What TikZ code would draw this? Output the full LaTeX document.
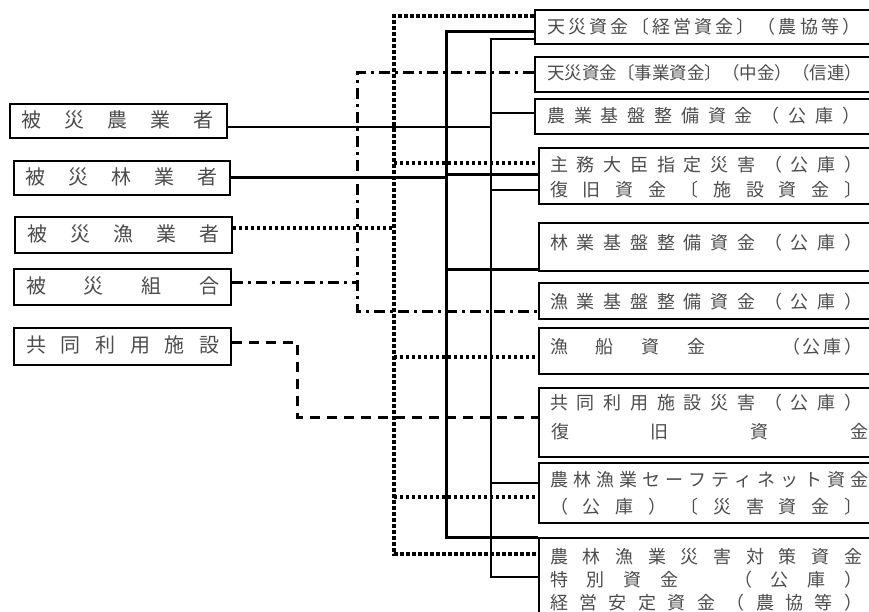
\documentclass[tikz,border=0pt]{standalone}
\usepackage{fontspec}
\newfontfamily\jp{Noto Sans CJK JP}
\makeatletter
\def\spreadchars#1{\spr@a#1\relax}
\def\spr@a#1{\ifx#1\relax\else#1\expandafter\spr@b\fi}
\def\spr@b#1{\ifx#1\relax\else\hfill#1\expandafter\spr@b\fi}
\makeatother
\newcommand\jtext[2]{\hbox to #1{\spreadchars{#2}}}
\tikzset{
  jbox/.style={draw, line width=1.8pt, inner sep=0pt, anchor=north west},
  rtxt/.style={anchor=west, inner sep=0pt, text=black!70, font=\jp\fontsize{18}{21}\selectfont},
  ltxt/.style={anchor=west, inner sep=0pt, text=black!70, font=\jp\fontsize{20}{23}\selectfont},
  solthin/.style={line width=1.3pt},
  solthick/.style={line width=3pt, line join=miter},
  dotbus/.style={line width=4pt, dash pattern=on 3.6pt off 2.4pt},
  dotbr/.style={line width=3.2pt, dash pattern=on 3pt off 3pt},
  dashdot/.style={line width=3pt, dash pattern=on 11pt off 5pt on 3pt off 5pt},
  dashedl/.style={line width=3pt, dash pattern=on 10pt off 7pt},
}
\begin{document}
\begin{tikzpicture}[x=1pt,y=-1pt]
\useasboundingbox (0,0) rectangle (869,612);
% left boxes
\node[jbox, minimum width=217pt, minimum height=34pt] (L1) at (9,103) {};
\node[jbox, minimum width=216pt, minimum height=34pt] (L2) at (13,160) {};
\node[jbox, minimum width=217pt, minimum height=36pt] (L3) at (14,216) {};
\node[jbox, minimum width=217pt, minimum height=36pt] (L4) at (13,268) {};
\node[jbox, minimum width=217pt, minimum height=37pt] (L5) at (13,327) {};
% right boxes
\node[jbox, minimum width=341pt, minimum height=34pt] (R1) at (534,9) {};
\node[jbox, minimum width=341pt, minimum height=35pt] (R2) at (534,56) {};
\node[jbox, minimum width=341pt, minimum height=35pt] (R3) at (534,98) {};
\node[jbox, minimum width=337pt, minimum height=56pt] (R4) at (538,147) {};
\node[jbox, minimum width=337pt, minimum height=48pt] (R5) at (538,222) {};
\node[jbox, minimum width=337pt, minimum height=36pt] (R6) at (538,282) {};
\node[jbox, minimum width=337pt, minimum height=46pt] (R7) at (538,327) {};
\node[jbox, minimum width=337pt, minimum height=69pt] (R8) at (538,387) {};
\node[jbox, minimum width=337pt, minimum height=60pt] (R9) at (538,462) {};
\node[jbox, minimum width=337pt, minimum height=85pt] (R10) at (538,537) {};
% left texts
\node[ltxt] (l1) at (21,120) {\jtext{192pt}{被災農業者}};
\node[ltxt] (l2) at (25,177) {\jtext{192pt}{被災林業者}};
\node[ltxt] (l3) at (27,234) {\jtext{192pt}{被災漁業者}};
\node[ltxt] (l4) at (26,286) {\jtext{193pt}{被災組合}};
\node[ltxt] (l5) at (26,345) {\jtext{193pt}{共同利用施設}};
% right texts
\node[rtxt] (r1) at (547,27) {\jtext{313pt}{天災資金〔経営資金〕（農協等）}};
\node[rtxt, font=\jp\fontsize{17.5}{21}\selectfont] (r2) at (547,73) {\jtext{312pt}{天災資金〔事業資金〕（中金）（信連）}};
\node[rtxt] (r3) at (547,116) {\jtext{313pt}{農業基盤整備資金（公庫）}};
\node[rtxt] (r4a) at (550,165) {\jtext{312pt}{主務大臣指定災害（公庫）}};
\node[rtxt] (r4b) at (550,190) {\jtext{312pt}{復旧資金〔施設資金〕}};
\node[rtxt] (r5) at (550,243) {\jtext{312pt}{林業基盤整備資金（公庫）}};
\node[rtxt] (r6) at (550,302) {\jtext{312pt}{漁業基盤整備資金（公庫）}};
\node[rtxt] (r7a) at (550,347) {\jtext{155pt}{漁船資金}};
\node[rtxt] (r7b) at (782,347) {\jtext{80pt}{（公庫）}};
\node[rtxt] (r8a) at (550,403) {\jtext{312pt}{共同利用施設災害（公庫）}};
\node[rtxt] (r8b) at (551,432) {\jtext{317pt}{復旧資金}};
\node[rtxt] (r9a) at (550,480) {\jtext{318pt}{農林漁業セーフティネット資金}};
\node[rtxt] (r9b) at (550,507) {\jtext{312pt}{（公庫）〔災害資金〕}};
\node[rtxt] (r10a) at (550,557) {\jtext{312pt}{農林漁業災害対策資金}};
\node[rtxt] (r10b) at (550,580) {\jtext{312pt}{特別資金\null\null（公庫）}};
\node[rtxt] (r10c) at (550,603) {\jtext{312pt}{経営安定資金（農協等）}};
% thin solid: 被災農業者, bus x=491
\coordinate (nA) at (491,127);
\coordinate (nT) at (491,39);
\coordinate (n3) at (491,113);
\coordinate (n4) at (491,190);
\coordinate (n9) at (491,483);
\coordinate (nB) at (491,577);
\draw[solthin] (nA -| L1.east) -- (nA);
\draw[solthin] (nT -| R1.west) -- (nT) -- (nB) -- (nB -| R10.west);
\draw[solthin] (n3) -- (n3 -| R3.west);
\draw[solthin] (n4) -- (n4 -| R4.west);
\draw[solthin] (n9) -- (n9 -| R9.west);
% thick solid: 被災林業者, bus x=446
\coordinate (fA) at (446,178);
\coordinate (fT) at (446,32);
\coordinate (f4) at (446,175);
\coordinate (f5) at (446,269);
\coordinate (fB) at (446,537);
\draw[solthick] (fA -| L2.east) -- (fA);
\draw[solthick] (fT -| R1.west) -- (fT) -- (fB) -- (fB -| R10.west);
\draw[solthick] (f4) -- (f4 -| R4.west);
\draw[solthick] (f5) -- (f5 -| R5.west);
% dotted: 被災漁業者, bus x=394
\coordinate (dA) at (394,228);
\coordinate (dT) at (394,16);
\coordinate (d4) at (394,163);
\coordinate (d7) at (394,357);
\coordinate (d9) at (394,497);
\coordinate (dB) at (394,554);
\draw[dotbus] (dA -| L3.east) -- (dA);
\draw[dotbus] (dT -| R1.west) -- (dT) -- (dB) -- (dB -| R10.west);
\draw[dotbr] (d4) -- (d4 -| R4.west);
\draw[dotbr] (d7) -- (d7 -| R7.west);
\draw[dotbr] (d9) -- (d9 -| R9.west);
% dash-dot: 被災組合, bus x=357
\coordinate (cA) at (357,282);
\coordinate (cT) at (357,73);
\coordinate (cB) at (357,311);
\draw[dashdot] (cA -| L4.east) -- (cA);
\draw[dashdot] (cT -| R2.west) -- (cT) -- (cB) -- (cB -| R6.west);
% dashed: 共同利用施設
\coordinate (eA) at (297,342);
\coordinate (eB) at (297,417);
\draw[dashedl] (eA -| L5.east) -- (eA) -- (eB) -- (eB -| R8.west);
\end{tikzpicture}
\end{document}
